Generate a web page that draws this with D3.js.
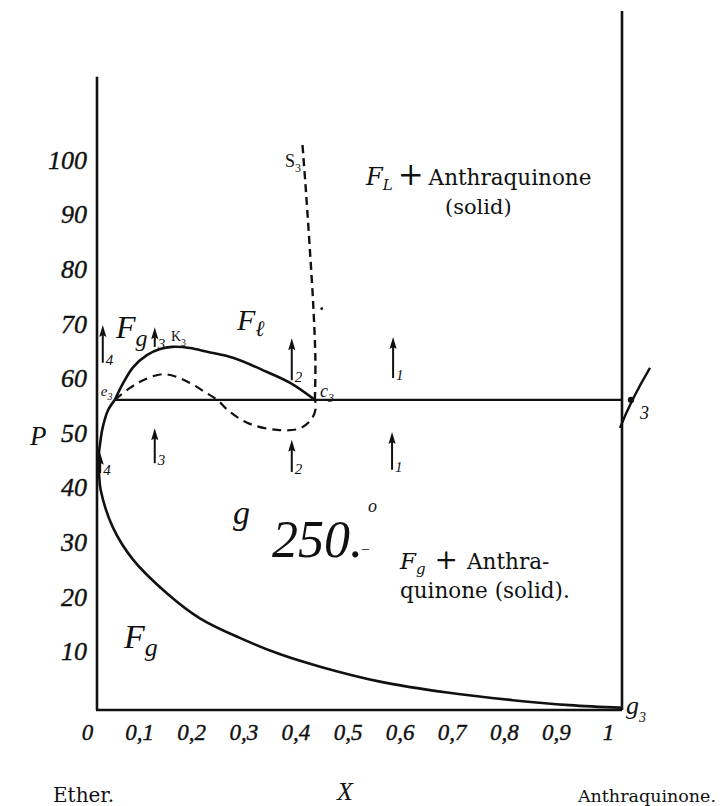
<!DOCTYPE html>
<html>
<head>
<meta charset="utf-8">
<script src="https://cdn.jsdelivr.net/npm/d3@7"></script>
<style>
  html, body { margin: 0; padding: 0; background: #fff; }
  svg { display: block; }
  text { fill: #111; }
</style>
</head>
<body>
<svg id="chart" width="724" height="806"></svg>
<script>
// P–X section of the system ether – anthraquinone at 250°

// axis ticks
const xTicks = [0, 0.1, 0.2, 0.3, 0.4, 0.5, 0.6, 0.7, 0.8, 0.9, 1];
const xTickLabels = ["0", "0,1", "0,2", "0,3", "0,4", "0,5", "0,6", "0,7", "0,8", "0,9", "1"];
const yTicks = [10, 20, 30, 40, 50, 60, 70, 80, 90, 100];
const yTickLabels = ["10", "20", "30", "40", "50", "60", "70", "80", "90", "100"];

// three-phase pressure (horizontal line e3 … c3 … f3)
const threePhaseP = 56.8;
const e3 = [0.034, 56.8];
const c3 = [0.415, 56.8];

// liquid branch e3 → K3 → c3  [X, P]
const liquidCurve = [
  [0.034, 56.8], [0.050, 59.9], [0.069, 62.8], [0.095, 65.0], [0.120, 66.1],
  [0.143, 66.5], [0.177, 66.3], [0.210, 65.6], [0.259, 64.5], [0.324, 61.9],
  [0.368, 59.9], [0.415, 56.8]
];

// metastable (dashed) branch e3 → loop → c3
const dashedCurve = [
  [0.034, 56.8], [0.063, 59.0], [0.088, 60.4], [0.124, 61.5], [0.152, 61.0],
  [0.181, 59.7], [0.206, 58.2], [0.229, 56.8], [0.253, 54.6], [0.291, 52.4],
  [0.343, 51.3], [0.387, 51.6], [0.410, 53.5], [0.417, 55.5], [0.415, 56.8]
];

// gas branch e3 → minimum near X=0 → g3
const gasCurve = [
  [0.034, 56.8], [0.021, 54.9], [0.011, 51.8], [0.006, 48.9], [0.003, 46.2],
  [0.004, 43.2], [0.007, 40.3], [0.030, 33.5], [0.069, 27.5], [0.133, 21.4],
  [0.196, 16.8], [0.272, 13.2], [0.349, 10.2], [0.430, 7.8], [0.539, 5.2],
  [0.667, 3.2], [0.792, 1.8], [0.900, 0.9], [1.000, 0.4]
];

// solubility curve c3 → S3
const solubilityCurve = [
  [0.415, 56.8], [0.416, 64.0], [0.412, 74.0], [0.405, 85.0], [0.398, 95.0], [0.391, 104.0]
];

// direction arrows: X, tail P, head P, label
const arrowX = [0.011, 0.110, 0.371, 0.564, 0.110, 0.371, 0.562, 0.006];
const arrowTail = [63.6, 66.5, 60.4, 60.8, 45.2, 43.6, 44.0, 43.4];
const arrowHead = [70.5, 70.1, 68.1, 68.3, 51.6, 49.5, 50.9, 47.1];
const arrowLabels = ["4", "3", "2", "1", "3", "2", "1", "4"];

const svg = d3.select("#chart");

const x = d3.scaleLinear().domain([0, 1]).range([97, 622]);
const y = d3.scaleLinear().domain([0, 100]).range([710, 164]);

const hand = "'Liberation Serif', 'DejaVu Serif', serif";
const print = "'DejaVu Serif', 'Liberation Serif', serif";

// frame: left axis, bottom axis, right (anthraquinone) axis
const frame = svg.append("g").attr("stroke", "#111").attr("stroke-width", 2.6).attr("fill", "none");
frame.append("line").attr("x1", x(0)).attr("x2", x(0)).attr("y1", y(116)).attr("y2", y(0));
frame.append("line").attr("x1", x(0) - 1).attr("x2", x(1)).attr("y1", y(0)).attr("y2", y(0));
frame.append("line").attr("x1", x(1)).attr("x2", x(1)).attr("y1", y(128)).attr("y2", y(0));

// tick labels through d3 axes (no tick marks, no domain line)
const xAxis = d3.axisBottom(x).tickValues(xTicks).tickSize(0)
  .tickFormat((d, i) => xTickLabels[i]);
const gx = svg.append("g").attr("transform", `translate(0,${y(0)})`).call(xAxis);
gx.select(".domain").remove();
gx.selectAll("text")
  .attr("font-family", hand).attr("font-style", "italic").attr("font-size", 23)
  .attr("fill", "#111").attr("stroke", "#111").attr("stroke-width", 0.4)
  .attr("dy", "1.0em")
  .attr("transform", d => `translate(${-10 - 4 * d},4)`);

const yAxis = d3.axisLeft(y).tickValues(yTicks).tickSize(0)
  .tickFormat((d, i) => yTickLabels[i]);
const gy = svg.append("g").attr("transform", `translate(${x(0)},0)`).call(yAxis);
gy.select(".domain").remove();
gy.selectAll("text")
  .attr("font-family", hand).attr("font-style", "italic").attr("font-size", 26)
  .attr("fill", "#111").attr("stroke", "#111").attr("stroke-width", 0.4)
  .attr("x", -10)
  .attr("dy", "0.32em")
  .attr("transform", "translate(0,-4)");

// axis titles
svg.append("text").attr("x", 30).attr("y", 445).attr("font-family", hand)
  .attr("font-style", "italic").attr("font-size", 27).text("P");
svg.append("text").attr("x", 345).attr("y", 800).attr("font-family", hand)
  .attr("font-style", "italic").attr("font-size", 26).attr("text-anchor", "middle").text("X");
svg.append("text").attr("x", 53).attr("y", 802).attr("font-family", print)
  .attr("font-size", 20).text("Ether.");
svg.append("text").attr("x", 716).attr("y", 802).attr("font-family", print)
  .attr("font-size", 17.5).attr("text-anchor", "end").text("Anthraquinone.");

const line = d3.line().x(d => x(d[0])).y(d => y(d[1])).curve(d3.curveCatmullRom.alpha(0.5));

// three-phase line
svg.append("line")
  .attr("x1", x(e3[0])).attr("x2", x(1))
  .attr("y1", y(threePhaseP)).attr("y2", y(threePhaseP))
  .attr("stroke", "#111").attr("stroke-width", 2.4);

svg.append("path").datum(gasCurve).attr("d", line)
  .attr("fill", "none").attr("stroke", "#111").attr("stroke-width", 2.6);
svg.append("path").datum(liquidCurve).attr("d", line)
  .attr("fill", "none").attr("stroke", "#111").attr("stroke-width", 2.6);
svg.append("path").datum(dashedCurve).attr("d", line)
  .attr("fill", "none").attr("stroke", "#111").attr("stroke-width", 2.2)
  .attr("stroke-dasharray", "9,6");
svg.append("path").datum(solubilityCurve).attr("d", line)
  .attr("fill", "none").attr("stroke", "#111").attr("stroke-width", 2.4)
  .attr("stroke-dasharray", "8,5");
svg.append("circle").attr("cx", x(0.428)).attr("cy", y(73.5)).attr("r", 1.4).attr("fill", "#111");

// arrows
arrowX.forEach((ax, i) => {
  const cx = x(ax), yh = y(arrowHead[i]), yt = y(arrowTail[i]);
  svg.append("line")
    .attr("x1", cx).attr("x2", cx).attr("y1", yt).attr("y2", yh + 8)
    .attr("stroke", "#111").attr("stroke-width", 2);
  svg.append("path")
    .attr("d", `M${cx},${yh} L${cx + 3.6},${yh + 12} L${cx},${yh + 10} L${cx - 3.6},${yh + 12} Z`)
    .attr("fill", "#111");
  svg.append("text")
    .attr("x", cx + 3).attr("y", yt + 2)
    .attr("font-family", hand).attr("font-style", "italic").attr("font-size", 15)
    .text(arrowLabels[i]);
});

// labelled points and region names
function sub(xp, yp, main, s, size, subSize, opts = {}) {
  const t = svg.append("text").attr("x", xp).attr("y", yp)
    .attr("font-family", opts.family || hand)
    .attr("font-style", opts.upright ? "normal" : "italic")
    .attr("font-size", size);
  t.append("tspan").text(main);
  t.append("tspan").attr("font-size", subSize).attr("dy", opts.dy || size * 0.3).text(s);
  return t;
}

sub(x(e3[0]) - 14, y(threePhaseP) - 4, "e", "3", 15, 10);
sub(x(c3[0]) + 5, y(threePhaseP) - 3, "c", "3", 18, 12);
sub(x(0.139) + 1, y(67.5), "K", "3", 14, 10, { upright: true });
sub(x(0.358), y(99.5), "S", "3", 18, 12, { upright: true });
sub(x(1) + 4, y(-0.8), "g", "3", 26, 14);

// f3 mark on the right axis
svg.append("path")
  .attr("d", `M${x(1) - 2},${y(threePhaseP) + 28} Q${x(1) + 9},${y(threePhaseP)} ${x(1) + 28},${y(threePhaseP) - 32}`)
  .attr("fill", "none").attr("stroke", "#111").attr("stroke-width", 2.4);
svg.append("circle").attr("cx", x(1) + 9).attr("cy", y(threePhaseP)).attr("r", 3.2).attr("fill", "#111");
svg.append("text").attr("x", x(1) + 18).attr("y", y(threePhaseP) + 19)
  .attr("font-family", hand).attr("font-style", "italic").attr("font-size", 18).text("3");

// region symbols
sub(116, 338, "F", "g", 32, 24, { dy: 8 });
sub(237, 330, "F", "ℓ", 30, 22, { dy: 6 });
sub(124, 648, "F", "g", 34, 26, { dy: 8 });
svg.append("text").attr("x", 233).attr("y", 524).attr("font-family", hand)
  .attr("font-style", "italic").attr("font-size", 34).text("g");

// temperature
svg.append("text").attr("x", 272).attr("y", 557).attr("font-family", hand)
  .attr("font-style", "italic").attr("font-size", 52).text("250.");
svg.append("text").attr("x", 362).attr("y", 553).attr("font-family", hand)
  .attr("font-size", 14).text("–");
svg.append("text").attr("x", 368).attr("y", 512).attr("font-family", hand)
  .attr("font-style", "italic").attr("font-size", 18).text("o");

// phase field descriptions
const fl = svg.append("text").attr("x", 366).attr("y", 185).attr("font-family", print).attr("font-size", 21.5);
fl.append("tspan").attr("font-style", "italic").attr("font-size", 24).text("F");
fl.append("tspan").attr("font-style", "italic").attr("font-size", 15).attr("dy", 5).text("L");
fl.append("tspan").attr("dy", -5).attr("dx", 5).attr("font-size", 31).text("+");
fl.append("tspan").attr("dx", 5).text("Anthraquinone");
svg.append("text").attr("x", 445).attr("y", 214).attr("font-family", print).attr("font-size", 21).text("(solid)");

const fg = svg.append("text").attr("x", 400).attr("y", 569).attr("font-family", print).attr("font-size", 21.5);
fg.append("tspan").attr("font-style", "italic").attr("font-size", 23).text("F");
fg.append("tspan").attr("font-style", "italic").attr("font-size", 15).attr("dy", 5).text("g");
fg.append("tspan").attr("dy", -5).attr("dx", 9).attr("font-size", 28).text("+");
fg.append("tspan").attr("dx", 9).text("Anthra-");
svg.append("text").attr("x", 400).attr("y", 598).attr("font-family", print).attr("font-size", 21.5)
  .attr("xml:space", "preserve").text("quinone (solid).");
</script>
</body>
</html>
